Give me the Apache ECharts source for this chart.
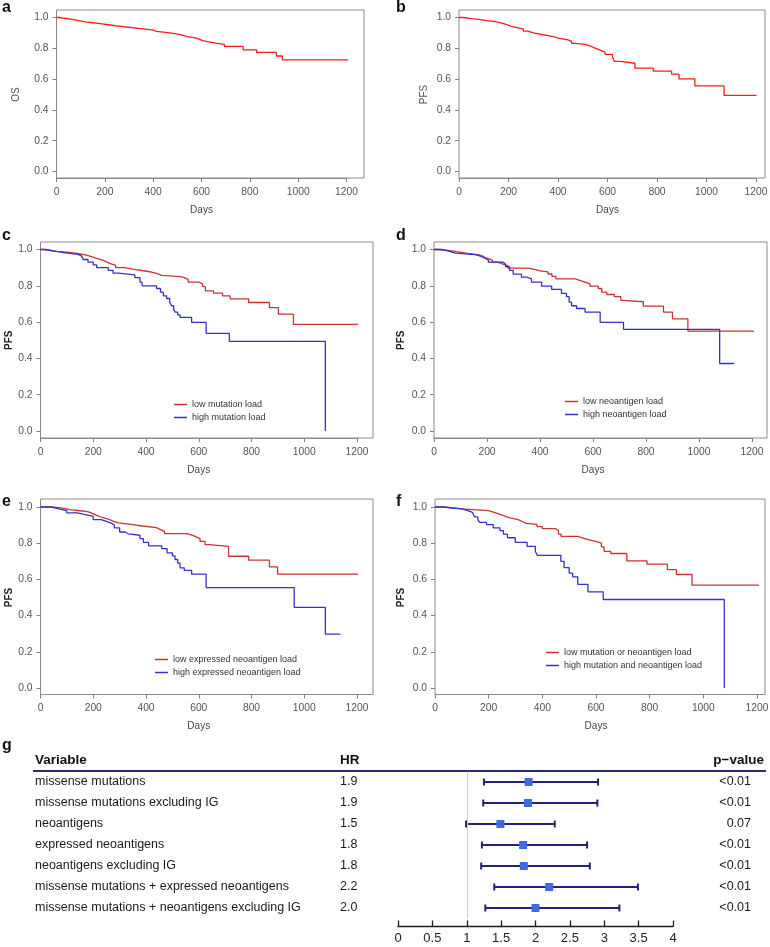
<!DOCTYPE html>
<html>
<head>
<meta charset="utf-8">
<script src="https://cdn.jsdelivr.net/npm/echarts@6.0.0/dist/echarts.min.js"></script>
<style>
  html, body { margin: 0; padding: 0; background: #fff; }
  #chart { width: 770px; height: 947px; }
</style>
</head>
<body>
<div id="chart"></div>
<script>
// ---- Kaplan-Meier curves, [day, survival after the step] ----
const osAll = [[0,1],[10,0.995],[30,0.99],[60,0.98],[90,0.972],[120,0.966],[150,0.96],[180,0.953],[215,0.946],[250,0.94],[280,0.933],[320,0.926],[360,0.918],[400,0.91],[415,0.902],[460,0.895],[490,0.885],[520,0.876],[540,0.868],[575,0.86],[590,0.85],[605,0.843],[625,0.833],[660,0.825],[695,0.812],[772,0.79],[828,0.773],[910,0.75],[935,0.725],[1228,0.725]];
const pfsAll = [[0,1],[15,0.993],[50,0.988],[80,0.98],[110,0.975],[140,0.968],[160,0.96],[180,0.952],[195,0.942],[210,0.932],[240,0.925],[260,0.912],[280,0.9],[300,0.888],[340,0.882],[360,0.873],[390,0.864],[405,0.855],[440,0.845],[455,0.832],[470,0.825],[510,0.815],[530,0.805],[545,0.795],[560,0.785],[575,0.775],[590,0.76],[620,0.745],[628,0.715],[652,0.703],[711,0.671],[785,0.652],[859,0.632],[889,0.601],[953,0.556],[1071,0.494],[1202,0.494]];

const lowMut = [[0,1],[10,0.99],[60,0.985],[100,0.978],[140,0.97],[170,0.962],[190,0.952],[210,0.942],[235,0.932],[250,0.922],[265,0.912],[285,0.9],[320,0.892],[350,0.883],[390,0.876],[420,0.868],[440,0.858],[460,0.85],[530,0.845],[545,0.835],[560,0.82],[600,0.81],[615,0.795],[625,0.772],[656,0.76],[690,0.745],[719,0.728],[789,0.708],[868,0.68],[902,0.644],[959,0.587],[1212,0.587]];
const highMut = [[0,1],[20,0.99],[60,0.98],[100,0.973],[143,0.965],[155,0.955],[162,0.945],[180,0.93],[200,0.915],[213,0.9],[257,0.885],[275,0.87],[295,0.86],[358,0.845],[377,0.82],[385,0.8],[440,0.785],[455,0.765],[466,0.745],[478,0.73],[490,0.71],[497,0.69],[505,0.67],[510,0.655],[520,0.64],[529,0.626],[573,0.598],[628,0.538],[716,0.494],[1080,0]];

const lowNeo = [[0,1],[20,0.99],[80,0.98],[120,0.972],[165,0.963],[185,0.952],[200,0.942],[220,0.93],[240,0.92],[260,0.91],[280,0.897],[355,0.89],[380,0.882],[400,0.877],[430,0.865],[445,0.852],[460,0.838],[532,0.83],[550,0.82],[570,0.81],[589,0.798],[620,0.785],[633,0.765],[652,0.752],[680,0.74],[705,0.72],[715,0.712],[790,0.688],[866,0.655],[900,0.618],[958,0.55],[1210,0.55]];
const highNeo = [[0,1],[30,0.99],[60,0.98],[80,0.972],[155,0.963],[175,0.953],[190,0.943],[205,0.93],[261,0.92],[270,0.905],[285,0.885],[299,0.864],[330,0.848],[350,0.838],[368,0.82],[406,0.798],[444,0.78],[481,0.758],[500,0.74],[510,0.71],[519,0.69],[538,0.675],[570,0.655],[627,0.598],[715,0.56],[1078,0.372],[1133,0.372]];

const lowExpNeo = [[0,1],[40,0.995],[80,0.985],[110,0.978],[160,0.972],[185,0.962],[200,0.952],[215,0.942],[235,0.932],[260,0.922],[275,0.912],[295,0.903],[350,0.895],[385,0.886],[440,0.875],[455,0.865],[470,0.853],[554,0.845],[575,0.835],[590,0.825],[605,0.81],[624,0.792],[640,0.783],[713,0.728],[789,0.706],[868,0.669],[899,0.629],[1213,0.629]];
const highExpNeo = [[0,1],[40,0.99],[70,0.98],[100,0.967],[140,0.958],[170,0.948],[200,0.93],[230,0.92],[250,0.91],[270,0.9],[280,0.885],[300,0.862],[320,0.852],[333,0.844],[377,0.825],[390,0.805],[410,0.785],[460,0.77],[480,0.746],[500,0.73],[510,0.71],[520,0.69],[529,0.664],[545,0.65],[573,0.629],[628,0.555],[962,0.445],[1080,0.298],[1137,0.298]];

const lowMutOrNeo = [[0,1],[30,0.99],[100,0.98],[200,0.97],[220,0.96],[240,0.95],[260,0.94],[280,0.93],[310,0.92],[325,0.91],[340,0.904],[380,0.892],[400,0.88],[450,0.87],[460,0.85],[470,0.838],[532,0.83],[550,0.82],[570,0.81],[600,0.8],[620,0.78],[630,0.755],[655,0.743],[715,0.702],[790,0.684],[866,0.654],[900,0.627],[958,0.568],[1210,0.568]];
const highMutAndNeo = [[0,1],[30,0.99],[100,0.98],[122,0.97],[140,0.96],[147,0.945],[160,0.93],[166,0.915],[192,0.903],[217,0.885],[242,0.87],[255,0.85],[270,0.83],[299,0.805],[343,0.783],[374,0.755],[381,0.733],[469,0.7],[481,0.665],[500,0.635],[513,0.614],[532,0.572],[570,0.531],[627,0.489],[1078,0]];

// ---- forest plot (g) ----
const varNames = ['missense mutations', 'missense mutations excluding IG', 'neoantigens', 'expressed neoantigens', 'neoantigens excluding IG', 'missense mutations + expressed neoantigens', 'missense mutations + neoantigens excluding IG'];
const hrLabels = ['1.9', '1.9', '1.5', '1.8', '1.8', '2.2', '2.0'];
const hrEst = [1.9, 1.89, 1.49, 1.82, 1.83, 2.2, 2.0];
const ciLow = [1.25, 1.24, 0.99, 1.22, 1.21, 1.4, 1.27];
const ciHigh = [2.91, 2.9, 2.28, 2.75, 2.79, 3.49, 3.22];
const pLabels = ['<0.01', '<0.01', '0.07', '<0.01', '<0.01', '<0.01', '<0.01'];

const fontFamily = '"Liberation Sans", Arial, Helvetica, sans-serif';
const RED_A = '#ff1a1a', RED = '#cc3333', BLUE = '#3333cc';

const kmPanels = [
  { letter: 'a', yName: 'OS', bold: false, curves: [['OS', osAll, RED_A]] },
  { letter: 'b', yName: 'PFS', bold: false, curves: [['PFS', pfsAll, RED_A]] },
  { letter: 'c', yName: 'PFS', bold: true, curves: [['low mutation load', lowMut, RED], ['high mutation load', highMut, BLUE]] },
  { letter: 'd', yName: 'PFS', bold: true, curves: [['low neoantigen load', lowNeo, RED], ['high neoantigen load', highNeo, BLUE]] },
  { letter: 'e', yName: 'PFS', bold: true, curves: [['low expressed neoantigen load', lowExpNeo, RED], ['high expressed neoantigen load', highExpNeo, BLUE]] },
  { letter: 'f', yName: 'PFS', bold: true, curves: [['low mutation or neoantigen load', lowMutOrNeo, RED], ['high mutation and neoantigen load', highMutAndNeo, BLUE]] }
];

// pixel layout of each panel (x of day 0 / day 1200, y of 1.0 / 0.0, frame edges)
const boxes = [
  { x0: 56.5, x1200: 346.5, y1: 17.5, y0: 171.5, boxR: 364, boxT: 10, boxB: 178, nameX: 15, lx: 2, ly: 0 },
  { x0: 459, x1200: 756, y1: 17.5, y0: 171.5, boxR: 765, boxT: 10, boxB: 178, nameX: 423, lx: 396, ly: 0 },
  { x0: 40.5, x1200: 357, y1: 249.5, y0: 431, boxR: 373, boxT: 242, boxB: 438, nameX: 15, lx: 2, ly: 228, legend: [174, 400] },
  { x0: 434, x1200: 752, y1: 249.5, y0: 431, boxR: 767, boxT: 242, boxB: 438, nameX: 400, lx: 396, ly: 228, legend: [565, 397] },
  { x0: 40.5, x1200: 357, y1: 507, y0: 688, boxR: 373, boxT: 499, boxB: 694.5, nameX: 15, lx: 2, ly: 494, legend: [155, 655] },
  { x0: 435, x1200: 757, y1: 507, y0: 688, boxR: 765, boxT: 499, boxB: 694.5, nameX: 400, lx: 396, ly: 494, legend: [546, 648] }
];

const grids = [], xAxes = [], yAxes = [], series = [], legends = [], graphics = [];

kmPanels.forEach((p, i) => {
  const b = boxes[i];
  grids.push({ left: b.x0, top: b.y1, width: b.x1200 - b.x0, height: b.y0 - b.y1, containLabel: false, outerBoundsMode: 'none' });
  xAxes.push({
    gridIndex: i, type: 'value', position: 'bottom', min: 0, max: 1200, interval: 200, offset: b.boxB - b.y0,
    name: 'Days', nameLocation: 'middle', nameGap: 27,
    nameTextStyle: { fontSize: 10, color: '#444', fontFamily },
    axisLine: { show: true, onZero: false, lineStyle: { color: '#8a8a8a', width: 1 } },
    axisTick: { show: true, inside: false, length: 4, lineStyle: { color: '#808080' } },
    axisLabel: { margin: 9, fontSize: 10.3, color: '#555', fontFamily, formatter: v => String(v) },
    splitLine: { show: false }
  });
  yAxes.push({
    gridIndex: i, type: 'value', position: 'left', min: 0, max: 1, interval: 0.2,
    name: p.yName, nameLocation: 'middle', nameGap: b.x0 - b.nameX - 6,
    nameTextStyle: { fontSize: 10, color: p.bold ? '#222' : '#555', fontWeight: p.bold ? 'bold' : 'normal', fontFamily },
    axisLine: { show: false, onZero: false },
    axisTick: { show: true, inside: false, length: 4, lineStyle: { color: '#808080' } },
    axisLabel: { margin: 8, fontSize: 10.3, color: '#555', fontFamily, formatter: v => v.toFixed(1) },
    splitLine: { show: false }
  });
  p.curves.forEach(([name, data, color]) => {
    series.push({
      type: 'line', name, data, step: 'end', xAxisIndex: i, yAxisIndex: i,
      showSymbol: false, symbol: 'none', clip: false, color,
      lineStyle: { width: 1.3, color }, animation: false, z: 3
    });
  });
  if (b.legend) {
    legends.push({
      data: p.curves.map(c => c[0]), orient: 'vertical', left: b.legend[0], top: b.legend[1],
      icon: 'rect', itemWidth: 13, itemHeight: 1.5, itemGap: 4, padding: 0,
      textStyle: { fontSize: 9, color: '#333', fontFamily }
    });
  }
  graphics.push({
    type: 'rect', silent: true, z: 1,
    shape: { x: b.x0, y: b.boxT, width: b.boxR - b.x0, height: b.boxB - b.boxT },
    style: { fill: 'none', stroke: '#8a8a8a', lineWidth: 1 }
  });
  graphics.push({
    type: 'text', x: b.lx, y: b.ly, silent: true,
    style: { text: p.letter, font: 'bold 16px ' + fontFamily, fill: '#111', verticalAlign: 'top' }
  });
});

// forest plot grid
const fi = kmPanels.length;
grids.push({ left: 398, width: 275, top: 771.5, height: 147, containLabel: false, outerBoundsMode: 'none' });
xAxes.push({
  gridIndex: fi, type: 'value', position: 'bottom', min: 0, max: 4, interval: 0.5, offset: 8,
  axisLine: { show: true, onZero: false, lineStyle: { color: '#1a1a1a', width: 1.3 } },
  axisTick: { show: true, inside: true, length: 6, lineStyle: { color: '#1a1a1a', width: 1.3 } },
  axisLabel: { margin: 5, fontSize: 13, color: '#222', fontFamily },
  splitLine: { show: false }
});
yAxes.push({ gridIndex: fi, type: 'value', min: -0.5, max: 6.5, inverse: true, show: false });

series.push({
  type: 'custom', xAxisIndex: fi, yAxisIndex: fi, clip: false, z: 3,
  data: varNames.map((_, i) => [ciLow[i], ciHigh[i], i]),
  encode: { x: [0, 1], y: 2 },
  renderItem: (params, api) => {
    const a = api.coord([api.value(0), api.value(2)]);
    const c = api.coord([api.value(1), api.value(2)]);
    const st = { stroke: '#22227a', lineWidth: 2 };
    return {
      type: 'group', children: [
        { type: 'line', shape: { x1: a[0], y1: a[1], x2: c[0], y2: c[1] }, style: st },
        { type: 'line', shape: { x1: a[0], y1: a[1] - 3.5, x2: a[0], y2: a[1] + 3.5 }, style: st },
        { type: 'line', shape: { x1: c[0], y1: c[1] - 3.5, x2: c[0], y2: c[1] + 3.5 }, style: st }
      ]
    };
  }
});
series.push({
  type: 'scatter', xAxisIndex: fi, yAxisIndex: fi, z: 4,
  data: hrEst.map((v, i) => [v, i]),
  symbol: 'rect', symbolSize: 8,
  itemStyle: { color: '#4169e1', opacity: 1 },
  markLine: {
    silent: true, symbol: ['none', 'none'], label: { show: false },
    lineStyle: { color: '#c8c8c8', width: 1, type: 'solid' },
    data: [{ xAxis: 1 }], animation: false
  },
  animation: false
});
series.push({
  type: 'custom', xAxisIndex: fi, yAxisIndex: fi, clip: false, z: 3,
  data: varNames.map((_, i) => [0, i]),
  encode: { x: 0, y: 1 },
  renderItem: (params, api) => {
    const i = api.value(1);
    const y = api.coord([0, i])[1];
    const font = '12.5px ' + fontFamily;
    return {
      type: 'group', children: [
        { type: 'text', x: 35, y, style: { text: varNames[i], font, fill: '#1a1a1a', verticalAlign: 'middle', align: 'left' } },
        { type: 'text', x: 340, y, style: { text: hrLabels[i], font, fill: '#1a1a1a', verticalAlign: 'middle', align: 'left' } },
        { type: 'text', x: 751, y, style: { text: pLabels[i], font, fill: '#1a1a1a', verticalAlign: 'middle', align: 'right' } }
      ]
    };
  }
});

// forest header
const headFont = 'bold 13.5px ' + fontFamily;
graphics.push(
  { type: 'text', x: 2, y: 738, silent: true, style: { text: 'g', font: 'bold 16px ' + fontFamily, fill: '#111', verticalAlign: 'top' } },
  { type: 'text', x: 35, y: 760, silent: true, style: { text: 'Variable', font: headFont, fill: '#111', verticalAlign: 'middle' } },
  { type: 'text', x: 340, y: 760, silent: true, style: { text: 'HR', font: headFont, fill: '#111', verticalAlign: 'middle' } },
  { type: 'text', x: 764, y: 760, silent: true, style: { text: 'p\u2212value', font: headFont, fill: '#111', verticalAlign: 'middle', align: 'right' } },
  { type: 'line', silent: true, shape: { x1: 33, y1: 771, x2: 766, y2: 771 }, style: { stroke: '#2b2d6e', lineWidth: 2 } }
);

const chart = echarts.init(document.getElementById('chart'), null, { renderer: 'canvas' });
chart.setOption({
  animation: false,
  backgroundColor: '#fff',
  textStyle: { fontFamily },
  grid: grids,
  xAxis: xAxes,
  yAxis: yAxes,
  legend: legends,
  graphic: graphics,
  series
});
</script>
</body>
</html>
